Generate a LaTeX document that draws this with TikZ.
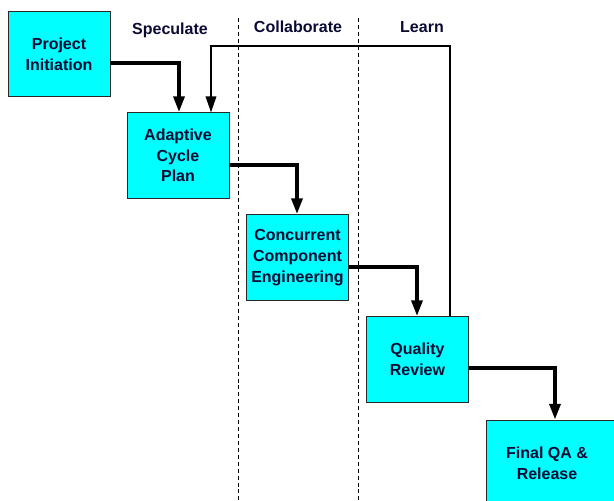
\documentclass[tikz,border=0pt]{standalone}
\usepackage{fontspec}
\setmainfont{Liberation Sans}
\usetikzlibrary{arrows.meta}
\definecolor{boxfill}{RGB}{0,255,255}
\definecolor{ink}{RGB}{10,10,50}
\definecolor{edge}{RGB}{40,40,40}
\begin{document}
\begin{tikzpicture}[x=0.75pt,y=-0.75pt,
  box/.style={draw=edge, line width=0.7pt, fill=boxfill, minimum width=76.5pt,
    minimum height=64pt, inner sep=0pt, align=center, text=ink,
    font=\bfseries\fontsize{12}{15.5}\selectfont},
  phase/.style={text=ink, font=\bfseries\fontsize{12}{14}\selectfont, inner sep=0pt},
  flow/.style={line width=3pt, -{Triangle[length=12pt,width=8pt]}},
  feedback/.style={line width=1pt, -{Triangle[length=12pt,width=8pt]}},
  divider/.style={line width=0.7pt, dash pattern=on 3pt off 2.2pt}]
\useasboundingbox (0,0) rectangle (614,500);
\begin{scope}
\clip (0,0) rectangle (614,500);

% phase separators
\draw[divider] (238,18) -- (238,500);
\draw[divider] (358,18) -- (358,500);

% phase headings
\node[phase] (spec) at (170,30) {Speculate};
\node[phase] (coll) at (298,27) {Collaborate};
\node[phase] (learn) at (422,27) {Learn};

% process steps
\node[box] (pi) at (59,54) {Project\\Initiation};
\node[box] (ac) at (178,155.5) {Adaptive\\Cycle\\Plan};
\node[box] (ce) at (297.5,257.5) {Concurrent\\Component\\Engineering};
\node[box] (qr) at (417.5,359.5) {Quality\\Review};

% last step runs off the page edge
\fill[boxfill] (486,420) rectangle (630,520);
\draw[edge, line width=0.7pt] (486,520) |- (630,420);
\node[box, draw=none, fill=none] (fq) at (547,463) {Final QA \&\\Release};

% main flow
\draw[flow] (pi.east |- 0,63) -| (ac.north -| 179,0);
\draw[flow] (ac.east |- 0,165) -| (ce.north -| 297,0);
\draw[flow] (ce.east |- 0,267) -| (qr.north -| 417,0);
\draw[flow] (qr.east |- 0,368) -| (fq.north -| 555,0);

% learning loop back to planning
\draw[feedback] (qr.north -| 450,0) |- (211,46) -- (ac.north -| 211,0);
\end{scope}
\end{tikzpicture}
\end{document}
